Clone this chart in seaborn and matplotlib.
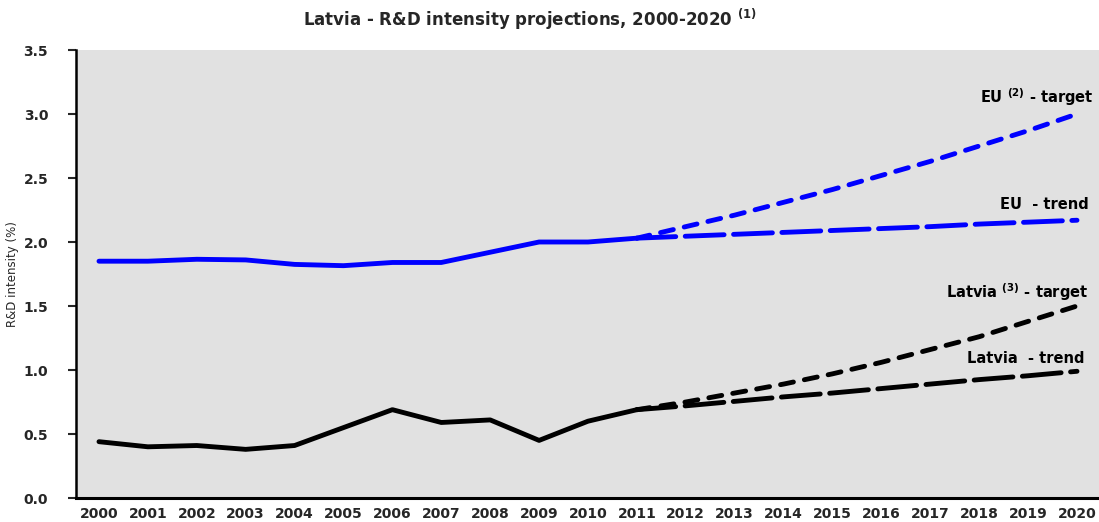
import matplotlib
matplotlib.use("Agg")
import matplotlib.pyplot as plt
import seaborn as sns
import pandas as pd

# ---- data ----
hist_years = list(range(2000, 2012))
eu_hist = [1.85, 1.85, 1.865, 1.86, 1.825, 1.815, 1.84, 1.84, 1.92, 2.00, 2.00, 2.03]
lv_hist = [0.44, 0.40, 0.41, 0.38, 0.41, 0.55, 0.69, 0.59, 0.61, 0.45, 0.60, 0.69]

proj_years = list(range(2011, 2021))
eu_trend = [2.03, 2.045, 2.06, 2.075, 2.09, 2.105, 2.12, 2.14, 2.155, 2.17]
eu_target = [2.03, 2.12, 2.21, 2.31, 2.41, 2.52, 2.63, 2.75, 2.87, 3.00]
lv_trend = [0.69, 0.72, 0.755, 0.79, 0.82, 0.855, 0.89, 0.925, 0.955, 0.99]
lv_target = [0.69, 0.75, 0.82, 0.89, 0.97, 1.06, 1.16, 1.26, 1.38, 1.50]

all_years = list(range(2000, 2021))
title = "Latvia - R&D intensity projections, 2000-2020"
ylabel = "R&D intensity (%)"
labels = {
    "eu_target": r"EU $^{\mathbf{(2)}}$ - target",
    "eu_trend": "EU  - trend",
    "lv_target": r"Latvia $^{\mathbf{(3)}}$ - target",
    "lv_trend": "Latvia  - trend",
}

# ---- style ----
sns.set_style("white", {"axes.facecolor": "#e1e1e1"})
plt.rcParams["font.family"] = ["DejaVu Sans"]
plt.rcParams["mathtext.fontset"] = "dejavusans"

fig = plt.figure(figsize=(10.99, 5.22), dpi=100)
ax = fig.add_axes([76 / 1099, 1 - 498 / 522, 1 - 76 / 1099, (498 - 50) / 522])

BLUE = "#0000ff"
BLACK = "#000000"
LW = 3.5

common = dict(ax=ax, errorbar=None, legend=False, linewidth=LW,
              solid_capstyle="round", dash_capstyle="round")

sns.lineplot(x=hist_years, y=eu_hist, color=BLUE, linestyle="-", **common)
sns.lineplot(x=hist_years, y=lv_hist, color=BLACK, linestyle="-", **common)

target_dash = (0, (2.7, 2.3))
trend_dash = (0, (8.0, 1.95))
sns.lineplot(x=proj_years, y=eu_target, color=BLUE, linestyle=target_dash, **common)
sns.lineplot(x=proj_years, y=eu_trend, color=BLUE, linestyle=trend_dash, **common)
sns.lineplot(x=proj_years, y=lv_target, color=BLACK, linestyle=target_dash, **common)
sns.lineplot(x=proj_years, y=lv_trend, color=BLACK, linestyle=trend_dash, **common)

ax.set_xlim(1999.53, 2020.45)
ax.set_ylim(0, 3.5)
ax.set_xticks(all_years)
ax.set_xticklabels([str(y) for y in all_years], fontsize=10, fontweight="bold")
ax.set_yticks([0, 0.5, 1.0, 1.5, 2.0, 2.5, 3.0, 3.5])
ax.set_yticklabels([f"{v:.1f}" for v in [0, 0.5, 1.0, 1.5, 2.0, 2.5, 3.0, 3.5]],
                   fontsize=10, fontweight="bold")
ax.tick_params(axis="x", length=0, pad=6.5)
ax.tick_params(axis="y", direction="out", length=6, width=1.5, pad=14, left=True)
ax.set_xlabel("")
ax.set_ylabel(ylabel, fontsize=8.5, family=["Liberation Sans Narrow", "DejaVu Sans"])
ax.yaxis.set_label_coords(-0.056, 0.5)

for side in ["top", "right"]:
    ax.spines[side].set_visible(False)
ax.spines["left"].set_linewidth(1.8)
ax.spines["left"].set_color("black")
ax.spines["bottom"].set_linewidth(2.2)
ax.spines["bottom"].set_color("black")

# labels for the projections
ann = dict(ha="right", va="center", fontsize=10.5, fontweight="bold", color="black")
ax.text(2020.33, 3.13, labels["eu_target"], **ann)
ax.text(2020.25, 2.29, labels["eu_trend"], **ann)
ax.text(2020.24, 1.61, labels["lv_target"], **ann)
ax.text(2020.15, 1.09, labels["lv_trend"], **ann)

fig.text(0.482, 0.962, title + r" $^{\mathbf{(1)}}$", ha="center", va="center",
         fontsize=12, fontweight="bold")

fig.savefig("out.png", dpi=100, facecolor="white")
